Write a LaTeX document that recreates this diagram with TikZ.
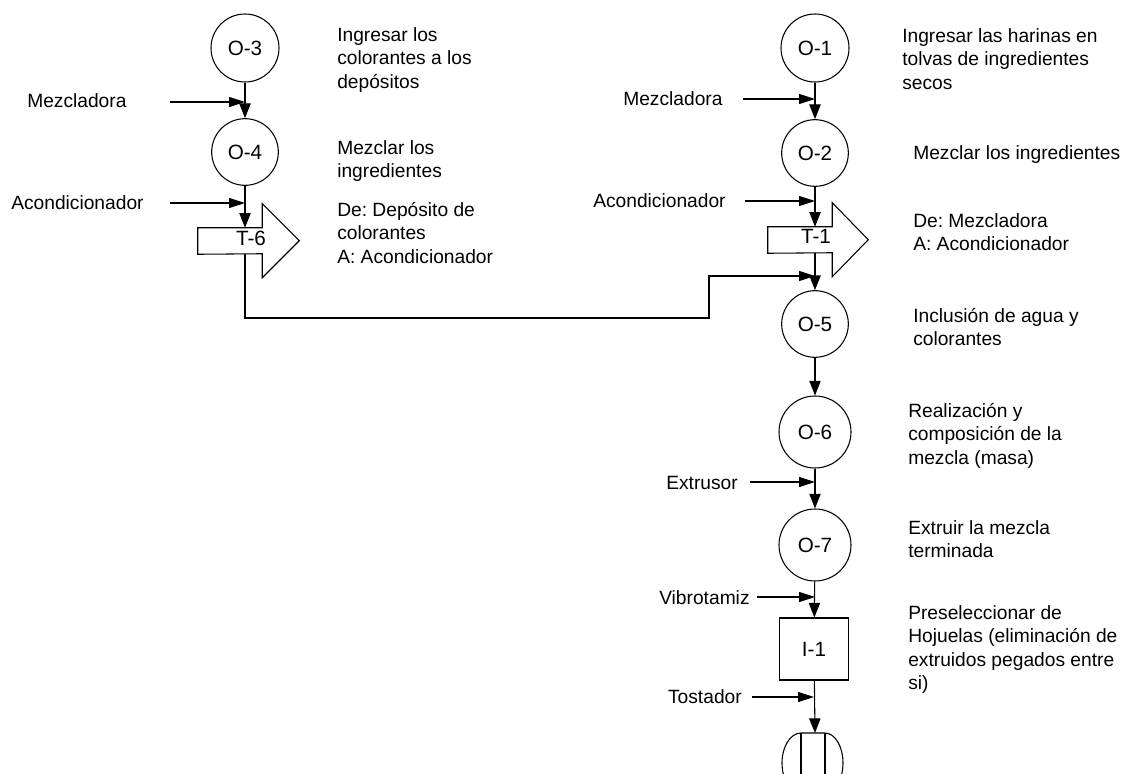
\documentclass[tikz,border=0pt]{standalone}
\usepackage{fontspec}
\setmainfont{Liberation Sans}
\usetikzlibrary{arrows.meta}
\frenchspacing
\begin{document}
\begin{tikzpicture}[x=0.75pt,y=-0.75pt,
  every node/.style={font=\fontsize{14.4}{17.6}\selectfont},
  op/.style={circle,draw,line width=0.8pt,inner sep=0pt,minimum size=#1,font=\fontsize{15.5}{18}\selectfont},
  op/.default=50pt,
  tbody/.style={rectangle,inner sep=0pt,minimum width=48pt,minimum height=19.5pt},
  insp/.style={rectangle,draw,line width=0.8pt,inner sep=0pt,minimum width=51.75pt,minimum height=46.5pt,font=\fontsize{15.5}{18}\selectfont},
  outline/.style={line width=0.8pt,line join=miter},
  desc/.style={anchor=north west,inner sep=0pt,align=left},
  feed/.style={anchor=base west,inner sep=0pt},
  tag/.style={anchor=base,inner sep=0pt,font=\fontsize{15.5}{18}\selectfont},
  harrow/.style={line width=0.8pt,-{Triangle[length=12pt,width=7.5pt]}},
  varrow/.style={line width=0.8pt,-{Triangle[length=11pt,width=8.5pt]}}
]
\useasboundingbox (0,0) rectangle (1125,774);
\clip (0,0) rectangle (1125,774);
\fill[white] (0,0) rectangle (1125,774);

% ---------- left branch: colourants ----------
\node[op=51pt]   (O3) at (245,48)  {O-3};
\node[op=50pt]   (O4) at (245,152) {O-4};
\node[tbody]     (T6) at (230,241) {};
\node[tag]       (T6t) at (251,245) {T-6};
\draw[outline] (T6.north east) -- ++(0,-24) -- ++(37,37) -- ++(-37,37)
  -- ++(0,-24) -- (T6.south west) -- (T6.north west) -- cycle;

\node[feed] (mezA) at (27,108)  {Mezcladora};
\node[feed] (acoA) at (11,209)  {Acondicionador};
\coordinate (fA1) at (170,102);
\coordinate (fA2) at (170,203);

\node[desc] (dO3) at (337,27)  {Ingresar los\\colorantes a los\\depósitos};
\node[desc] (dO4) at (337,140) {Mezclar los\\ingredientes};
\node[desc] (dT6) at (337,202) {De: Depósito de\\colorantes\\A: Acondicionador};

% ---------- right branch: main line ----------
\node[op=51pt]   (O1) at (815,48)  {O-1};
\node[op=50pt]   (O2) at (815,153) {O-2};
\node[tbody]     (T1) at (800,240) {};
\node[tag]       (T1t) at (816,243) {T-1};
\draw[outline] (T1.north east) -- ++(0,-24) -- ++(36,37) -- ++(-36,37)
  -- ++(0,-24) -- (T1.south west) -- (T1.north west) -- cycle;
\node[op=50pt]   (O5) at (815,324) {O-5};
\node[op=54pt]   (O6) at (815,432) {O-6};
\node[op=54pt]   (O7) at (815,545) {O-7};
\node[insp]      (I1) at (814,649) {I-1};
\coordinate (B) at (815,733);

\node[feed] (mezB) at (623,105) {Mezcladora};
\node[feed] (acoB) at (593,207) {Acondicionador};
\node[feed] (ext)  at (666,489) {Extrusor};
\node[feed] (vib)  at (659,604) {Vibrotamiz};
\node[anchor=base east,inner sep=0pt] (tos) at (742,703) {Tostador};
\coordinate (fB1) at (743,99);
\coordinate (fB2) at (745,201);
\coordinate (fB3) at (750,482);
\coordinate (fB4) at (757,597);
\coordinate (fB5) at (752,697);

\node[desc] (dO1) at (902,28)  {Ingresar las harinas en\\tolvas de ingredientes\\secos};
\node[desc] (dO2) at (913,145) {Mezclar los ingredientes};
\node[desc] (dT1) at (913,213) {De: Mezcladora\\A: Acondicionador};
\node[desc] (dO5) at (913,308) {Inclusión de agua y\\colorantes};
\node[desc] (dO6) at (908,403) {Realización y\\composición de la\\mezcla (masa)};
\node[desc] (dO7) at (908,520) {Extruir la mezcla\\terminada};
\node[desc] (dI1) at (908,605) {Preseleccionar de\\Hojuelas (eliminación de\\extruidos pegados entre\\si)};

% combined operation symbol at the foot of the line
\draw[outline] (801,733) -- (825,733)
  arc[start angle=270,end angle=450,x radius=18,y radius=30]
  -- (801,793)
  arc[start angle=90,end angle=270,x radius=19,y radius=30];
\draw[outline] (801,733) -- (801,800);
\draw[outline] (825,733) -- (825,800);

% ---------- vertical flow ----------
\draw[varrow] (O3) -- (O4);
\draw[varrow] (O4) -- (O4 |- T6.north);
\draw[varrow] (O1) -- (O2);
\draw[varrow] (O2) -- (O2 |- T1.north);
\draw[varrow] (T1.south -| O5) -- (O5);
\draw[varrow] (O5) -- (O6);
\draw[varrow] (O6) -- (O7);
\draw[varrow] (O7) -- (I1);
\draw[varrow] (I1) -- (B);

% transfer of the colourants into the main line
\coordinate (j1) at (709,318);
\coordinate (j2) at (709,276);
\draw[harrow] (T6.south -| O4) |- (j1) -- (j2) -- (j2 -| O5);

% ---------- equipment feeds ----------
\draw[harrow] (fA1) -- (fA1 -| O3);
\draw[harrow] (fA2) -- (fA2 -| O4);
\draw[harrow] (fB1) -- (fB1 -| O1);
\draw[harrow] (fB2) -- (fB2 -| O2);
\draw[harrow] (fB3) -- (fB3 -| O6);
\draw[harrow] (fB4) -- (fB4 -| O7);
\draw[harrow] (fB5) -- (fB5 -| I1);
\end{tikzpicture}
\end{document}
